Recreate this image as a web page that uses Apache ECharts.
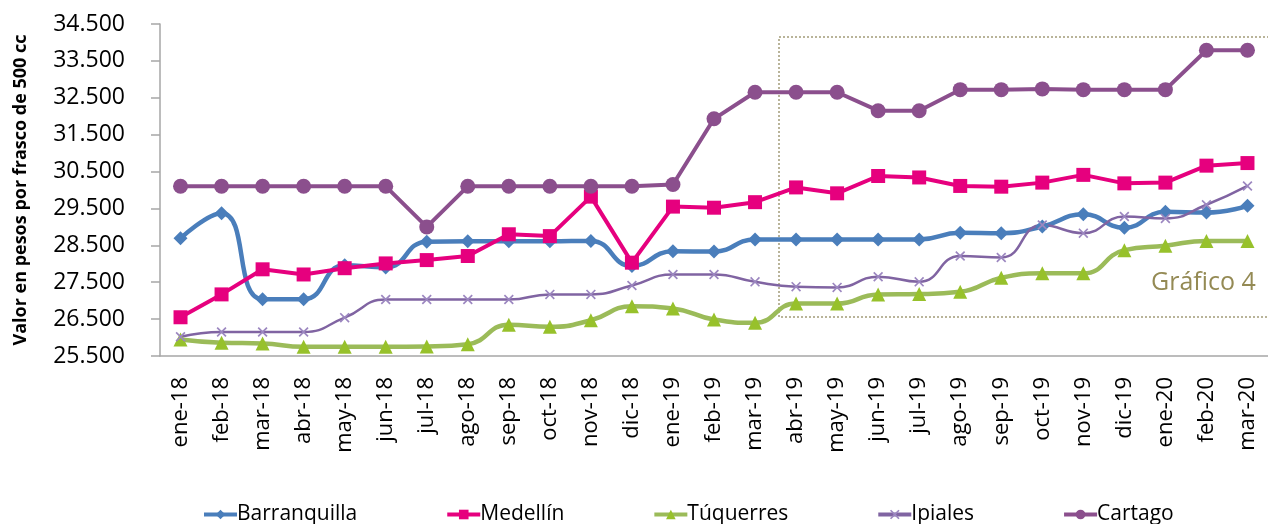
<!DOCTYPE html>
<html lang="es">
<head>
<meta charset="UTF-8">
<title>Gráfico 4</title>
<script src="https://cdn.jsdelivr.net/npm/echarts@6/dist/echarts.min.js"></script>
<style>
  html,body{margin:0;padding:0;background:#fff;}
  #chart{width:1268px;height:524px;}
</style>
</head>
<body>
<div id="chart"></div>
<script>
// meses (eje x)
var months = ['ene-18','feb-18','mar-18','abr-18','may-18','jun-18','jul-18','ago-18','sep-18','oct-18','nov-18','dic-18',
  'ene-19','feb-19','mar-19','abr-19','may-19','jun-19','jul-19','ago-19','sep-19','oct-19','nov-19','dic-19',
  'ene-20','feb-20','mar-20'];

// valores por ciudad
var barranquilla = [28690,29370,27040,27040,27960,27900,28600,28610,28610,28610,28620,27940,
  28340,28330,28660,28660,28660,28660,28660,28840,28830,29010,29340,28980,29410,29390,29570];
var medellin = [26550,27170,27850,27710,27880,28010,28100,28210,28800,28750,29820,28030,
  29550,29520,29670,30070,29910,30380,30340,30110,30090,30200,30410,30180,30200,30660,30730];
var tuquerres = [25950,25860,25840,25750,25750,25750,25760,25820,26350,26290,26470,26850,
  26790,26490,26400,26920,26920,27170,27180,27240,27620,27740,27740,28370,28490,28620,28620];
var ipiales = [26020,26150,26150,26150,26540,27030,27030,27030,27030,27170,27170,27410,
  27710,27710,27510,27380,27360,27650,27510,28210,28170,29050,28830,29280,29230,29600,30110];
var cartago = [30100,30100,30100,30100,30100,30100,29000,30100,30100,30100,30100,30100,
  30150,31930,32650,32650,32650,32150,32150,32720,32720,32740,32720,32720,32720,33790,33790];

// marcas del eje y
var yTicks = [25500,26500,27500,28500,29500,30500,31500,32500,33500,34500];

function fmt(v){
  return String(v).replace(/\B(?=(\d{3})+(?!\d))/g, '.');
}

var font = '"Open Sans", sans-serif';
var crossPath = 'path://M0,1.2L1.2,0L5,3.8L8.8,0L10,1.2L6.2,5L10,8.8L8.8,10L5,6.2L1.2,10L0,8.8L3.8,5Z';

var chart = echarts.init(document.getElementById('chart'), null, {renderer:'canvas'});

var option = {
  animation: false,
  textStyle: {fontFamily: font},
  grid: {left: 160, top: 24, width: 1112, height: 332, containLabel: false},
  legend: {
    left: 197, top: 499,
    itemGap: 88, itemWidth: 33, itemHeight: 12,
    lineStyle: {width: 4},
    textStyle: {fontSize: 21, color: '#000', fontFamily: font, padding: [0,0,0,-5]},
    data: ['Barranquilla','Medellín','Túquerres','Ipiales','Cartago']
  },
  xAxis: {
    type: 'category',
    data: months,
    boundaryGap: true,
    axisLine: {lineStyle: {color: '#a6a6a6', width: 1.5}},
    axisTick: {show: false},
    axisLabel: {rotate: 90, margin: 21, fontSize: 22, color: '#000', fontFamily: font, interval: 0}
  },
  yAxis: {
    type: 'value',
    min: 25500, max: 34500,
    name: 'Valor en pesos por frasco de 500 cc',
    nameLocation: 'middle',
    nameGap: 130,
    nameTextStyle: {fontSize: 18, fontWeight: 'bold', color: '#000', fontFamily: font},
    splitLine: {show: false},
    axisLine: {show: true, lineStyle: {color: '#a6a6a6', width: 1.5}},
    axisTick: {show: true, length: 9, customValues: yTicks, lineStyle: {color: '#a6a6a6', width: 1.5}},
    axisLabel: {margin: 35, fontSize: 23, color: '#000', fontFamily: font, customValues: yTicks, formatter: fmt}
  },
  graphic: [
    {type: 'rect', z: 0, silent: true,
     shape: {x: 779, y: 37, width: 600, height: 280},
     style: {fill: 'none', stroke: '#a39c78', lineWidth: 1.5, lineDash: [2, 2]}},
    {type: 'text', z: 0, silent: true, left: 1151, top: 270,
     style: {text: 'Gráfico 4', fill: '#948a54', fontSize: 25, fontFamily: font}}
  ],
  series: [
    {name: 'Barranquilla', type: 'line', data: barranquilla, smooth: 0.5,
     symbol: 'diamond', symbolSize: 14, showAllSymbol: true,
     itemStyle: {color: '#4a7ebb'}, lineStyle: {color: '#4a7ebb', width: 4.5}},
    {name: 'Medellín', type: 'line', data: medellin,
     symbol: 'rect', symbolSize: 14, showAllSymbol: true,
     itemStyle: {color: '#e6007e'}, lineStyle: {color: '#e6007e', width: 4}},
    {name: 'Túquerres', type: 'line', data: tuquerres, smooth: 0.5,
     symbol: 'triangle', symbolSize: 14, showAllSymbol: true,
     itemStyle: {color: '#97c12b'}, lineStyle: {color: '#9bbb59', width: 4.5}},
    {name: 'Ipiales', type: 'line', data: ipiales, smooth: 0.5,
     symbol: crossPath, symbolSize: 10, showAllSymbol: true,
     itemStyle: {color: '#9c87c0'}, lineStyle: {color: '#8064a2', width: 2.5}},
    {name: 'Cartago', type: 'line', data: cartago,
     symbol: 'circle', symbolSize: 15, showAllSymbol: true,
     itemStyle: {color: '#8b4f8d'}, lineStyle: {color: '#8b4f8d', width: 4}}
  ]
};

chart.setOption(option);
</script>
</body>
</html>
